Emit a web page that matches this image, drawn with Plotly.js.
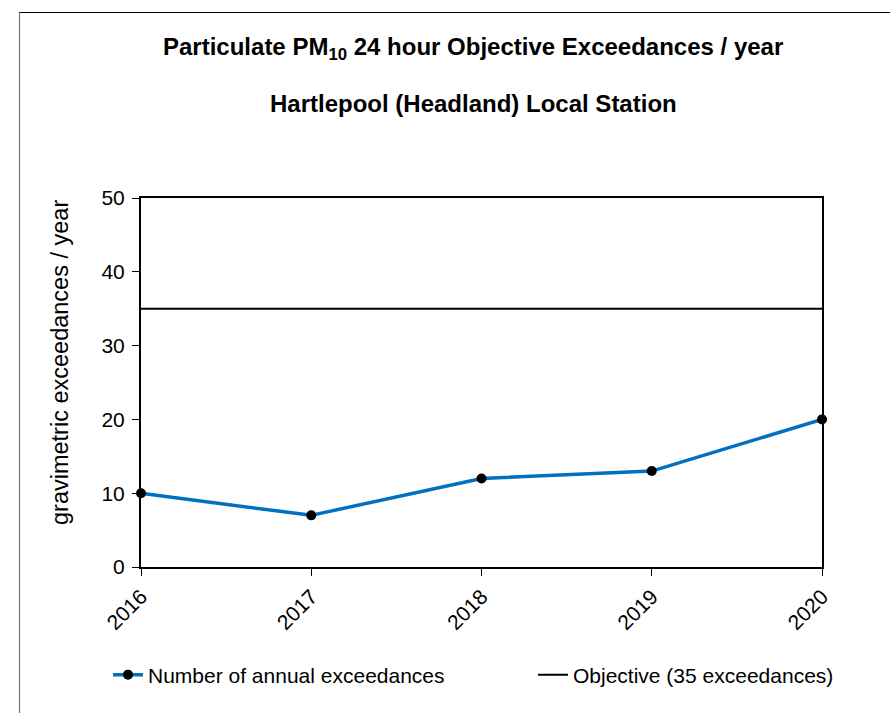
<!DOCTYPE html>
<html>
<head>
<meta charset="utf-8">
<script src="https://cdn.plot.ly/plotly-3.0.1.min.js"></script>
<style>
  html, body { margin: 0; padding: 0; background: #fff; }
  #chart { width: 890px; height: 713px; }
</style>
</head>
<body>
<div id="chart"></div>
<script>
// Annual PM10 24-hour objective exceedances, Hartlepool (Headland)
const years = [2016, 2017, 2018, 2019, 2020];
const exceedances = [10, 7, 12, 13, 20];
const objective = [35, 35, 35, 35, 35];
const yTicks = [0, 10, 20, 30, 40, 50];

const FONT = 'Liberation Sans, Arial, sans-serif';

// plot-area geometry in pixels, used to place paper-referenced items
const W = 890, H = 713;
const M = { l: 141, r: 68, t: 198, b: 146 };
const pw = W - M.l - M.r, ph = H - M.t - M.b;
const px = x => (x - M.l) / pw;
const py = y => (H - M.b - y) / ph;

const traces = [
  {
    x: years, y: exceedances,
    type: 'scatter', mode: 'lines+markers',
    name: 'Number of annual exceedances',
    line: { color: '#0070C0', width: 3.5 },
    marker: { color: '#000', size: 10 },
    legend: 'legend',
    cliponaxis: false
  },
  {
    x: years, y: objective,
    type: 'scatter', mode: 'lines',
    name: 'Objective (35 exceedances)',
    line: { color: '#000', width: 2 },
    legend: 'legend2'
  }
];

const legendBase = {
  orientation: 'h',
  xanchor: 'left', yanchor: 'middle',
  font: { family: FONT, size: 21, color: '#000' },
  bgcolor: 'rgba(0,0,0,0)'
};

const layout = {
  width: W, height: H,
  margin: M,
  paper_bgcolor: '#fff',
  plot_bgcolor: '#fff',
  font: { family: FONT, color: '#000' },
  showlegend: true,
  legend: Object.assign({}, legendBase, { x: px(108), y: py(675) }),
  legend2: Object.assign({}, legendBase, { x: px(533), y: py(675) }),
  xaxis: {
    range: [2016, 2020],
    tickvals: years,
    ticktext: years.map(String),
    tickangle: -45,
    ticks: 'outside', ticklen: 7, tickwidth: 1, tickcolor: '#000',
    showline: true, linecolor: '#000', linewidth: 2, mirror: true,
    showgrid: false, zeroline: false,
    tickfont: { family: FONT, size: 21, color: '#000' }
  },
  yaxis: {
    range: [0, 50],
    tickvals: yTicks,
    ticks: 'outside', ticklen: 7, tickwidth: 1, tickcolor: '#000',
    ticklabelstandoff: 3,
    showline: true, linecolor: '#000', linewidth: 2, mirror: true,
    showgrid: false, zeroline: false,
    tickfont: { family: FONT, size: 21, color: '#000' }
  },
  annotations: [
    {
      text: '<b>Particulate PM<sub>10</sub> 24 hour Objective Exceedances / year</b>',
      xref: 'paper', yref: 'paper', x: px(473), y: py(49),
      xanchor: 'center', yanchor: 'middle', showarrow: false,
      font: { family: FONT, size: 24, color: '#000' }
    },
    {
      text: '<b>Hartlepool (Headland) Local Station</b>',
      xref: 'paper', yref: 'paper', x: px(473), y: py(103),
      xanchor: 'center', yanchor: 'middle', showarrow: false,
      font: { family: FONT, size: 24, color: '#000' }
    },
    {
      text: 'gravimetric exceedances / year',
      xref: 'paper', yref: 'paper', x: px(60), y: py(363),
      xanchor: 'center', yanchor: 'middle', textangle: -90, showarrow: false,
      font: { family: FONT, size: 23.5, color: '#000' }
    }
  ],
  shapes: [
    { type: 'line', xref: 'paper', yref: 'paper',
      x0: px(19), x1: px(900), y0: py(12.5), y1: py(12.5),
      line: { color: '#000', width: 1.2 } },
    { type: 'line', xref: 'paper', yref: 'paper',
      x0: px(19.5), x1: px(19.5), y0: py(12.5), y1: py(720),
      line: { color: '#777', width: 1.2 } }
  ]
};

Plotly.newPlot('chart', traces, layout, { displayModeBar: false, staticPlot: true });
</script>
</body>
</html>
